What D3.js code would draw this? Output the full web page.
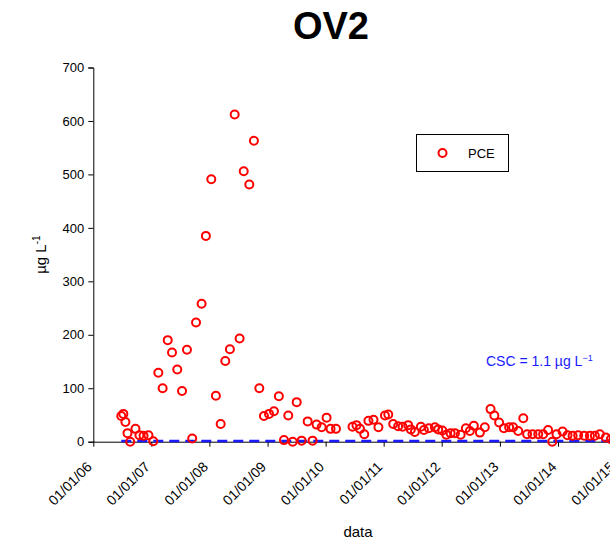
<!DOCTYPE html>
<html>
<head>
<meta charset="utf-8">
<script src="https://cdn.jsdelivr.net/npm/d3@7"></script>
<style>
  html, body { margin: 0; padding: 0; background: #fff; }
  svg { display: block; font-family: "Liberation Sans", Arial, sans-serif; }
</style>
</head>
<body>
<svg id="chart" width="610" height="543"></svg>
<script>
// PCE concentrations at well OV2 (µg/L) by sampling date
const sampleDates = [
  "2006-06-26","2006-07-09","2006-07-22","2006-08-04","2006-08-21","2006-09-23","2006-10-18","2006-11-13","2006-12-14",
  "2007-01-13","2007-02-14","2007-03-13","2007-04-14","2007-05-11","2007-06-13","2007-07-13","2007-08-13","2007-09-15","2007-10-09","2007-11-13","2007-12-10",
  "2008-01-13","2008-02-11","2008-03-12","2008-04-10","2008-05-09","2008-06-08","2008-07-09","2008-08-04","2008-09-08","2008-10-07","2008-11-10","2008-12-09",
  "2009-01-10","2009-02-10","2009-03-13","2009-04-14","2009-05-11","2009-06-08","2009-07-03","2009-08-03","2009-09-10","2009-10-11","2009-11-05","2009-12-07",
  "2010-01-07","2010-02-01","2010-03-07","2010-06-19","2010-07-14","2010-08-05","2010-09-01","2010-09-27","2010-10-29","2010-11-29",
  "2011-01-09","2011-01-30","2011-03-02","2011-04-02","2011-04-30","2011-06-04","2011-06-21","2011-07-16","2011-08-23","2011-09-11","2011-10-12","2011-11-19","2011-12-10",
  "2012-01-05","2012-01-30","2012-02-26","2012-03-24","2012-04-29","2012-06-01","2012-06-26","2012-07-21","2012-08-28","2012-09-28","2012-11-03","2012-11-27","2012-12-27",
  "2013-01-26","2013-02-28","2013-03-25","2013-04-26","2013-05-28","2013-06-21","2013-07-25","2013-08-30","2013-09-30","2013-10-31","2013-11-26","2013-12-23",
  "2014-01-30","2014-03-02","2014-04-03","2014-05-08","2014-06-15","2014-07-21","2014-08-21","2014-09-21","2014-10-29","2014-11-30"
];
const pceValues = [
  48, 52, 37, 16, 0, 24, 12, 11, 12,
  1, 129, 100, 190, 167, 135, 95, 172, 6, 223, 258, 385,
  491, 86, 33, 151, 173, 612, 193, 506, 481, 563, 100, 48,
  52, 57, 85, 3, 49, 0, 74, 2, 38, 2, 32, 27,
  45, 24, 24, 28, 31, 24, 14, 39, 41, 27,
  49, 51, 33, 29, 28, 31, 23, 18, 28, 22, 25, 27, 23,
  21, 13, 16, 16, 13, 25, 20, 30, 17, 27, 61, 49, 36,
  25, 27, 27, 20, 44, 14, 14, 14, 14, 22, 0, 14,
  19, 12, 11, 12, 11, 11, 11, 14, 8, 5
];
const yTickValues = [0, 100, 200, 300, 400, 500, 600, 700];
const xDomain = ["2006-01-01", "2015-01-01"];
const cscLimit = 1.1; // CSC threshold, µg/L

const parse = d3.timeParse("%Y-%m-%d");
const points = sampleDates.map((d, i) => ({ date: parse(d), value: pceValues[i] }));

const svg = d3.select("#chart");
const plotLeft = 93.3, plotRight = 616, plotTop = 67.5, plotBottom = 441.7;

const x = d3.scaleTime().domain(xDomain.map(parse)).range([plotLeft, plotRight]);
const y = d3.scaleLinear().domain([0, 700]).range([plotBottom, plotTop]);

// Title
svg.append("text")
  .attr("x", 331).attr("y", 39)
  .attr("text-anchor", "middle")
  .attr("font-size", 38).attr("font-weight", "bold")
  .text("OV2");

// Y axis
const yAxis = svg.append("g")
  .attr("transform", `translate(${plotLeft},0)`)
  .call(d3.axisLeft(y).tickValues(yTickValues).tickSize(5).tickPadding(4));
yAxis.select(".domain").attr("stroke", "#000").attr("stroke-width", 1);
yAxis.selectAll("text").attr("font-size", 13).attr("fill", "#000")
  .attr("font-family", "Liberation Sans, Arial, sans-serif");

// X axis
const xAxis = svg.append("g")
  .attr("transform", `translate(0,${plotBottom})`)
  .call(d3.axisBottom(x).ticks(d3.timeYear.every(1)).tickFormat(d3.timeFormat("%d/%m/%y")).tickSize(5).tickSizeOuter(0));
xAxis.select(".domain").attr("stroke", "#000").attr("stroke-width", 1);
xAxis.selectAll("text")
  .attr("font-size", 14).attr("fill", "#000")
  .attr("font-family", "Liberation Sans, Arial, sans-serif")
  .attr("text-anchor", "end")
  .attr("dy", null)
  .attr("y", 0)
  .attr("transform", "translate(-1,26) rotate(-45)");

// Axis titles
svg.append("text")
  .attr("x", 358).attr("y", 537)
  .attr("text-anchor", "middle")
  .attr("font-size", 15)
  .text("data");

const yTitle = svg.append("text")
  .attr("transform", `translate(46,${(plotTop + plotBottom) / 2}) rotate(-90)`)
  .attr("text-anchor", "middle")
  .attr("font-size", 15);
yTitle.append("tspan").text("µg L");
yTitle.append("tspan").attr("font-size", 10).attr("dy", -6).text("-1");

// CSC threshold line
svg.append("line")
  .attr("x1", x(points[0].date)).attr("x2", plotRight)
  .attr("y1", y(cscLimit)).attr("y2", y(cscLimit))
  .attr("stroke", "#1a1aff").attr("stroke-width", 2.5)
  .attr("stroke-dasharray", "10,6");

const csc = svg.append("text")
  .attr("x", 486).attr("y", 366)
  .attr("font-size", 14).attr("fill", "#1a1aff");
csc.append("tspan").text("CSC = " + cscLimit + " µg L");
csc.append("tspan").attr("font-size", 9).attr("dy", -5).text("−1");

// Sample points
svg.append("g")
  .selectAll("circle")
  .data(points)
  .join("circle")
  .attr("cx", d => x(d.date))
  .attr("cy", d => y(d.value))
  .attr("r", 4)
  .attr("fill", "none")
  .attr("stroke", "#ff0000")
  .attr("stroke-width", 2);

// Legend
const legend = svg.append("g");
legend.append("rect")
  .attr("x", 416.5).attr("y", 134.5).attr("width", 92).attr("height", 37)
  .attr("fill", "#fff").attr("stroke", "#000").attr("stroke-width", 1);
legend.append("circle")
  .attr("cx", 442.5).attr("cy", 153)
  .attr("r", 4).attr("fill", "none").attr("stroke", "#ff0000").attr("stroke-width", 2);
legend.append("text")
  .attr("x", 468).attr("y", 158)
  .attr("font-size", 13)
  .text("PCE");
</script>
</body>
</html>
